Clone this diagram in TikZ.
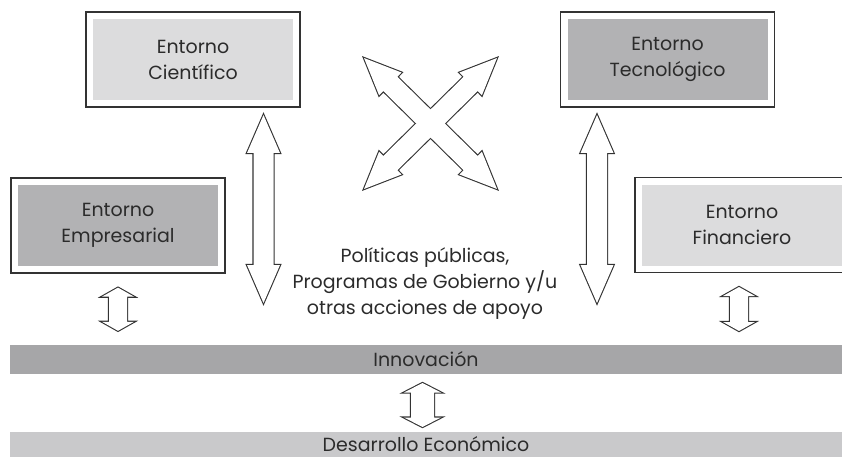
\documentclass[tikz,border=0pt]{standalone}
\usepackage{fontspec}
\setmainfont{Poppins}
\usetikzlibrary{calc}

\definecolor{linec}{HTML}{333333}
\definecolor{textc}{HTML}{2b2b2b}
\definecolor{lightfill}{HTML}{DCDCDD}
\definecolor{darkfill}{HTML}{B2B2B4}
\definecolor{innovfill}{HTML}{A6A6A8}
\definecolor{desafill}{HTML}{C9C9CB}

\tikzset{
  envbox/.style={draw=linec, line width=1.3pt, fill=white,
    minimum width=214pt, minimum height=95pt, align=center,
    text=textc, font=\fontsize{19}{26}\selectfont,
    path picture={\fill[#1]
      ([shift={(7pt,7pt)}]path picture bounding box.south west) rectangle
      ([shift={(-7pt,-7pt)}]path picture bounding box.north east);}},
  bar/.style={minimum width=832pt, minimum height=29pt, inner sep=0pt,
    text=textc, font=\fontsize{19}{26}\selectfont},
  poltext/.style={align=center, text=textc, font=\fontsize{19}{26}\selectfont},
  arrowline/.style={draw=linec, line width=2.2pt, line join=miter},
  arrowfill/.style={fill=white},
  blockarrow/.style={preaction={arrowline}, arrowfill}
}

% double block arrow: [style] from, to, head length, head half width, shaft half width
\newcommand{\twowayarrow}[6][blockarrow]{%
  \path ($(#2)!#4!(#3)$) coordinate (ha) ($(#3)!#4!(#2)$) coordinate (hb);
  \path[#1] (#2)
    -- ($(ha)!#5!90:(#3)$) -- ($(ha)!#6!90:(#3)$)
    -- ($(hb)!#6!-90:(#2)$) -- ($(hb)!#5!-90:(#2)$)
    -- (#3)
    -- ($(hb)!#5!90:(#2)$) -- ($(hb)!#6!90:(#2)$)
    -- ($(ha)!#6!-90:(#3)$) -- ($(ha)!#5!-90:(#3)$)
    -- cycle;}

\begin{document}
\begin{tikzpicture}[x=1pt,y=-1pt]
\useasboundingbox (0,0) rectangle (842,457);

% entornos
\node[envbox=lightfill] (cien) at (193,59.5) {Entorno\\Científico};
\node[envbox=darkfill] (tecn) at (667.5,59.5) {Entorno\\Tecnológico};
\node[envbox=darkfill] (empr) at (118,225.5) {Entorno\\Empresarial};
\node[envbox=lightfill] (fina) at (742,225) {Entorno\\Financiero};

% barras
\node[bar, fill=innovfill] (innov) at (426,359.5) {Innovación};
\node[bar, fill=desafill, minimum height=25pt] (desa) at (426,444.5) {Desarrollo Económico};

\node[poltext] (pol) at (425,284)
  {Políticas públicas,\\Programas de Gobierno y/u\\otras acciones de apoyo};

% extremos de las flechas
\coordinate (cienA) at (263.5,115);
\coordinate (cienB) at (263.5,303);
\coordinate (tecnA) at (597,115);
\coordinate (tecnB) at (597,303);
\coordinate (emprA) at ([yshift=-14pt]empr.south);
\coordinate (emprB) at ([yshift=14pt]emprA |- innov.north);
\coordinate (finaA) at (739,287);
\coordinate (finaB) at (739,331);
\coordinate (innovA) at (422.5,383);
\coordinate (innovB) at (422.5,427);
\coordinate (xnw) at (364,58);
\coordinate (xse) at (497,189);
\coordinate (xne) at (497,58);
\coordinate (xsw) at (364,189);

% flechas verticales
\twowayarrow{cienA}{cienB}{38pt}{16.5pt}{10pt}
\twowayarrow{tecnA}{tecnB}{38pt}{16.5pt}{10pt}
\twowayarrow{emprA}{emprB}{9pt}{16pt}{9pt}
\twowayarrow{finaA}{finaB}{9pt}{16pt}{9pt}
\twowayarrow{innovA}{innovB}{9.5pt}{18.5pt}{11.5pt}

% cruz
\twowayarrow[arrowline]{xnw}{xse}{37pt}{16pt}{10pt}
\twowayarrow[arrowline]{xne}{xsw}{37pt}{16pt}{10pt}
\twowayarrow[arrowfill]{xnw}{xse}{37pt}{16pt}{10pt}
\twowayarrow[arrowfill]{xne}{xsw}{37pt}{16pt}{10pt}
\end{tikzpicture}
\end{document}
